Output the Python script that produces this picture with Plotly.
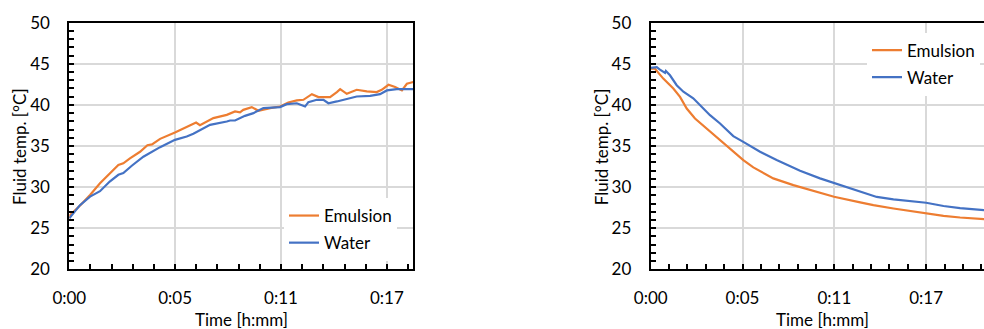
import plotly.graph_objects as go

# ---------------- data (time in minutes, temperature in °C) ----------------
heat_emul_t = [0, 0.04, 0.6, 1.13, 1.67, 2.2, 2.67, 2.94, 3.3, 3.85, 4.25, 4.5, 4.94, 5.75,
               6.39, 6.9, 7.11, 7.84, 8.57, 9.02, 9.29, 9.47, 9.93, 10.29, 10.93, 11.47,
               11.92, 12.38, 12.74, 13.2, 13.56, 14.19, 14.56, 14.74, 15.1, 15.64, 16.19,
               16.73, 17.0, 17.37, 17.73, 18.1, 18.37, 18.72]
heat_emul_T = [26.2, 26.6, 27.8, 29.05, 30.47, 31.7, 32.7, 32.9, 33.5, 34.3, 35.1, 35.2, 35.87,
               36.64, 37.37, 37.86, 37.54, 38.39, 38.79, 39.2, 39.1, 39.4, 39.73, 39.28, 39.6,
               39.8, 40.3, 40.54, 40.62, 41.31, 40.95, 40.95, 41.56, 41.92, 41.35, 41.84, 41.64,
               41.56, 41.84, 42.45, 42.17, 41.76, 42.57, 42.78]

heat_water_t = [0, 0.58, 1.13, 1.67, 2.2, 2.67, 2.94, 3.4, 4.03, 4.94, 5.75, 6.39, 6.75, 7.11,
                7.66, 8.57, 8.75, 9.02, 9.29, 9.56, 10.02, 10.56, 11.47, 11.83, 12.38, 12.83,
                13.01, 13.47, 13.83, 14.1, 14.56, 15.0, 15.64, 16.37, 16.91, 17.28, 17.82, 18.72]
heat_water_T = [26.2, 27.8, 28.85, 29.5, 30.67, 31.5, 31.7, 32.6, 33.7, 34.86, 35.75, 36.15,
                36.48, 36.88, 37.57, 37.98, 38.1, 38.1, 38.39, 38.67, 39.0, 39.61, 39.73, 40.09,
                40.2, 39.8, 40.34, 40.62, 40.62, 40.2, 40.42, 40.7, 41.02, 41.1, 41.31, 41.76,
                41.92, 41.92]

cool_emul_t = [0, 0.27, 0.79, 1.42, 1.84, 2.26, 2.78, 3.51, 4.35, 5.18, 5.81, 6.44, 7.69, 8.95,
               10.62, 11.5, 13.14, 13.97, 15.23, 17.28, 18.37, 19.41, 20.92]
cool_emul_T = [44.4, 44.4, 43.2, 42.0, 40.97, 39.56, 38.35, 37.13, 35.7, 34.3, 33.28, 32.4,
               31.06, 30.24, 29.3, 28.83, 28.14, 27.8, 27.4, 26.8, 26.5, 26.3, 26.1]

cool_water_t = [0, 0.38, 0.58, 0.9, 0.95, 1.21, 1.63, 2.05, 2.67, 3.3, 3.72, 4.35, 5.18, 5.81,
                6.86, 7.9, 9.37, 10.62, 11.5, 13.14, 14.18, 15.23, 17.28, 18.37, 19.41, 20.92]
cool_water_T = [44.5, 44.6, 44.3, 43.9, 44.13, 43.6, 42.4, 41.6, 40.8, 39.6, 38.75, 37.74, 36.2,
                35.5, 34.3, 33.3, 32.0, 31.06, 30.5, 29.4, 28.8, 28.5, 28.1, 27.7, 27.45, 27.2]

x_tickvals = [0, 5.76, 11.52, 17.28]
x_ticktext = ["0:00", "0:05", "0:11", "0:17"]
series_names = ["Emulsion", "Water"]
ORANGE = "#ED7D31"
BLUE = "#4472C4"
FONT = "Lato"
FS = 17

W, H = 984, 329
fig = go.Figure()

fig.add_trace(go.Scatter(x=heat_emul_t, y=heat_emul_T, name=series_names[0], mode="lines",
                         line=dict(color=ORANGE, width=2.2), xaxis="x", yaxis="y",
                         legend="legend", legendgroup="a"))
fig.add_trace(go.Scatter(x=heat_water_t, y=heat_water_T, name=series_names[1], mode="lines",
                         line=dict(color=BLUE, width=2.2), xaxis="x", yaxis="y",
                         legend="legend", legendgroup="b"))
fig.add_trace(go.Scatter(x=cool_emul_t, y=cool_emul_T, name=series_names[0], mode="lines",
                         line=dict(color=ORANGE, width=2.2), xaxis="x2", yaxis="y2",
                         legend="legend2", legendgroup="c"))
fig.add_trace(go.Scatter(x=cool_water_t, y=cool_water_T, name=series_names[1], mode="lines",
                         line=dict(color=BLUE, width=2.2), xaxis="x2", yaxis="y2",
                         legend="legend2", legendgroup="d"))

def px_x(p):
    return p / W

def px_y(p):
    return (H - p) / H

ydom = [px_y(269.3), px_y(22.7)]

common_x = dict(tickmode="array", tickvals=x_tickvals, ticktext=x_ticktext,
                showgrid=True, gridcolor="#d9d9d9", gridwidth=1.5,
                ticks="inside", ticklen=5, tickwidth=1.5, tickcolor="black",
                showline=True, linecolor="black", linewidth=2,
                minor=dict(tickmode="linear", tick0=0, dtick=1.152, ticks="inside",
                           ticklen=5, tickwidth=1.5, tickcolor="black", showgrid=False),
                tickfont=dict(family=FONT, size=FS, color="black"),
                ticklabelstandoff=12, zeroline=False, fixedrange=True, automargin=False)
common_y = dict(range=[20, 50], tickmode="linear", tick0=20, dtick=5,
                showgrid=True, gridcolor="#d9d9d9", gridwidth=1.5,
                ticks="inside", ticklen=5, tickwidth=1.5, tickcolor="black",
                showline=True, linecolor="black", linewidth=2,
                minor=dict(tickmode="linear", tick0=20, dtick=1, ticks="inside",
                           ticklen=5, tickwidth=1.5, tickcolor="black", showgrid=False),
                tickfont=dict(family=FONT, size=FS, color="black"),
                ticklabelstandoff=14, zeroline=False, fixedrange=True, automargin=False)

fig.update_layout(
    width=W, height=H,
    margin=dict(l=0, r=0, t=0, b=0, autoexpand=False),
    paper_bgcolor="white", plot_bgcolor="white",
    xaxis=dict(common_x, domain=[px_x(69.3), px_x(413.3)], range=[0, 18.72],
               anchor="y", mirror=True),
    yaxis=dict(common_y, domain=ydom, anchor="x", mirror=True),
    xaxis2=dict(common_x, domain=[px_x(650.7), 1.0], range=[0, 20.91],
                anchor="y2", mirror=True),
    yaxis2=dict(common_y, domain=ydom, anchor="x2", mirror=False),
    legend=dict(x=px_x(284), y=px_y(198), xanchor="left", yanchor="top",
                bgcolor="white", borderwidth=0, traceorder="grouped", tracegroupgap=2,
                font=dict(family=FONT, size=FS, color="black")),
    legend2=dict(x=px_x(867), y=px_y(32.5), xanchor="left", yanchor="top",
                 bgcolor="white", borderwidth=0, traceorder="grouped", tracegroupgap=2,
                 font=dict(family=FONT, size=FS, color="black")),
    showlegend=True,
    annotations=[
        dict(text="Time [h:mm]", x=px_x(241.3), y=px_y(319.3), xref="paper", yref="paper",
             showarrow=False, xanchor="center", yanchor="middle",
             font=dict(family=FONT, size=FS, color="black")),
        dict(text="Time [h:mm]", x=px_x(822.5), y=px_y(319.3), xref="paper", yref="paper",
             showarrow=False, xanchor="center", yanchor="middle",
             font=dict(family=FONT, size=FS, color="black")),
        dict(text="Fluid temp. [°C]", x=px_x(19), y=px_y(147), xref="paper", yref="paper",
             showarrow=False, xanchor="center", yanchor="middle", textangle=-90,
             font=dict(family=FONT, size=FS, color="black")),
        dict(text="Fluid temp. [°C]", x=px_x(601.7), y=px_y(146.5), xref="paper", yref="paper",
             showarrow=False, xanchor="center", yanchor="middle", textangle=-90,
             font=dict(family=FONT, size=FS, color="black")),
    ],
)

fig.write_html("out.html", config=dict(displayModeBar=False),
               post_script="document.body.style.margin='0';document.body.style.overflow='hidden';")
